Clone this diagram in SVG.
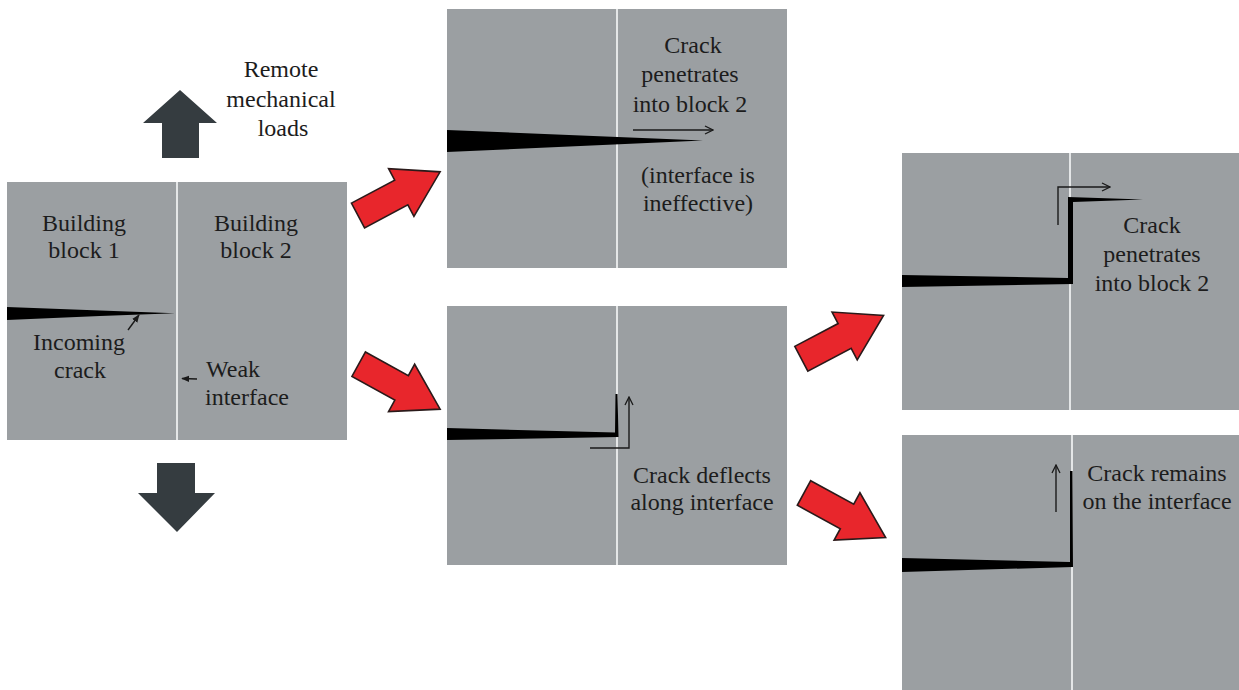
<svg xmlns="http://www.w3.org/2000/svg" width="1239" height="690" viewBox="0 0 1239 690">
<style>
.panel{fill:#9b9fa2}
.div{stroke:#e4e6e7;stroke-width:2}
.crack{fill:#000}
.t{font-family:"Liberation Serif","Times New Roman",serif;font-size:24px;fill:#1c1c1c;text-anchor:middle}
.tl{text-anchor:start}
.ptr{fill:none;stroke:#1a1a1a;stroke-width:1.4}
.red{fill:#e8262c;stroke:#2a1a1a;stroke-width:1.6;stroke-linejoin:miter}
.load{fill:#353c40}
</style>
<defs>
<marker id="open" viewBox="0 0 10 10" refX="9" refY="5" markerWidth="10" markerHeight="10" markerUnits="userSpaceOnUse" orient="auto">
<path d="M1,1 L9,5 L1,9" fill="none" stroke="#1a1a1a" stroke-width="1.3"/>
</marker>
<marker id="solid" viewBox="0 0 10 10" refX="9" refY="5" markerWidth="8" markerHeight="8" markerUnits="userSpaceOnUse" orient="auto">
<path d="M0,1 L10,5 L0,9 Z" fill="#1a1a1a"/>
</marker>
<polygon id="redArrow" points="0,-14 49,-14 49,-27 93,0 49,27 49,14 0,14"/>
</defs>
<rect width="1239" height="690" fill="#fff"/>

<g id="loads">
<polygon class="load" points="180,90 217,123 199,123 199,158 162,158 162,123 143,123"/>
<polygon class="load" points="157,463 195,463 195,493 215,493 177,532 138,493 157,493"/>
<text class="t" x="281" y="77">Remote</text>
<text class="t" x="281" y="107">mechanical</text>
<text class="t" x="283" y="136">loads</text>
</g>

<g id="panel-initial">
<rect class="panel" x="7" y="182" width="340" height="258"/>
<line class="div" x1="177" y1="182" x2="177" y2="440"/>
<polygon class="crack" points="7,307 100,310.5 175,313.3 100,316 7,320"/>
<text class="t" x="84" y="231">Building</text>
<text class="t" x="84" y="258">block 1</text>
<text class="t" x="256" y="231">Building</text>
<text class="t" x="256" y="258">block 2</text>
<path class="ptr" d="M128,330 L139,315" marker-end="url(#solid)"/>
<text class="t" x="79" y="350">Incoming</text>
<text class="t" x="80" y="378">crack</text>
<path class="ptr" d="M197,379 L182,378.5" marker-end="url(#solid)"/>
<text class="t tl" x="206" y="377">Weak</text>
<text class="t tl" x="205" y="405">interface</text>
</g>

<g id="panel-penetrate">
<rect class="panel" x="447" y="9" width="340" height="259"/>
<line class="div" x1="617" y1="9" x2="617" y2="268"/>
<polygon class="crack" points="447,130 703,140.5 447,152"/>
<path class="ptr" d="M633,130 L713,130" marker-end="url(#open)"/>
<text class="t" x="693" y="53">Crack</text>
<text class="t" x="690" y="82">penetrates</text>
<text class="t" x="690" y="112">into block 2</text>
<text class="t" x="698" y="183">(interface is</text>
<text class="t" x="698" y="211">ineffective)</text>
</g>

<g id="panel-deflect">
<rect class="panel" x="447" y="306" width="340" height="259"/>
<line class="div" x1="617" y1="306" x2="617" y2="565"/>
<polygon class="crack" points="447,428 615,432.5 615.5,394 617.5,394 618.5,437 447,440"/>
<path class="ptr" d="M590,448 L629,448 L629,397" marker-end="url(#open)"/>
<text class="t" x="702" y="483">Crack deflects</text>
<text class="t" x="702" y="510">along interface</text>
</g>

<g id="panel-deflect-penetrate">
<rect class="panel" x="902" y="153" width="340" height="257"/>
<line class="div" x1="1070" y1="153" x2="1070" y2="410"/>
<polygon class="crack" points="902,275 1068,278 1068,197 1143,199.5 1073,202 1073,284 902,287"/>
<path class="ptr" d="M1058,225 L1058,187 L1110,187" marker-end="url(#open)"/>
<text class="t" x="1152" y="233">Crack</text>
<text class="t" x="1152" y="262">penetrates</text>
<text class="t" x="1152" y="291">into block 2</text>
</g>

<g id="panel-remain">
<rect class="panel" x="902" y="435" width="340" height="260"/>
<line class="div" x1="1072" y1="435" x2="1072" y2="690"/>
<polygon class="crack" points="902,558 1070,562 1070,471 1072.5,471 1073,567 902,572"/>
<path class="ptr" d="M1056,512 L1056,465" marker-end="url(#open)"/>
<text class="t" x="1157" y="481">Crack remains</text>
<text class="t" x="1157" y="509">on the interface</text>
</g>

<g id="connectors">
<use href="#redArrow" class="red" transform="translate(358,215.5) rotate(-28)"/>
<use href="#redArrow" class="red" transform="translate(358.7,364.2) rotate(28.9)"/>
<use href="#redArrow" class="red" transform="translate(801.3,358.8) rotate(-27.8)"/>
<use href="#redArrow" class="red" transform="translate(804,493) rotate(28.6)"/>
</g>
</svg>
